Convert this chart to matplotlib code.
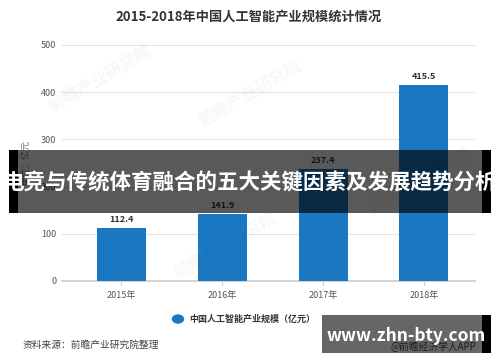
import matplotlib
matplotlib.use("Agg")
import matplotlib.pyplot as plt
from matplotlib.patches import Rectangle

plt.rcParams['font.family'] = ['Noto Sans CJK SC', 'DejaVu Sans']

years = ["2015年", "2016年", "2017年", "2018年"]
values = [112.4, 141.9, 237.4, 415.5]
yticks = [0, 100, 200, 300, 400, 500]
title = "2015-2018年中国人工智能产业规模统计情况"
legend_label = "中国人工智能产业规模（亿元）"
banner_text = "电竞与传统体育融合的五大关键因素及发展趋势分析"
site_text = "www.zhn-bty.com"

fig = plt.figure(figsize=(5, 3.62), dpi=100)
ax = fig.add_axes([0.124, 0.2238, 0.826, 0.652])

x = range(len(years))
ax.bar(x, values, width=0.486, color="#1a78c2", zorder=3, label=legend_label)
for xi, v in zip(x, values):
    ax.text(xi, v + 8, f"{v}", ha="center", va="bottom", fontsize=6.5,
            fontweight="bold", color="#333333", zorder=4)

ax.set_xlim(-0.59, 3.506)
ax.set_ylim(0, 500)
ax.set_yticks(yticks)
ax.set_xticks(list(x))
ax.set_xticklabels(years)
ax.tick_params(axis="y", length=0, labelsize=6.5, colors="#555555", pad=4)
ax.tick_params(axis="x", length=3, color="#cccccc", labelsize=6.5, colors="#555555", pad=4)
ax.grid(axis="y", color="#e3e3e3", linewidth=0.8, zorder=0)
for s in ["top", "right", "left"]:
    ax.spines[s].set_visible(False)
ax.spines["bottom"].set_color("#cccccc")
ax.spines["bottom"].set_linewidth(1.2)
ax.set_ylabel("单位：亿元", fontsize=6.5, color="#777777", labelpad=8)

fig.text(0.498, 0.955, title, ha="center", va="center", fontsize=9.5,
         fontweight="bold", color="#333333")

# legend
fig.patches.append(plt.Circle((178 / 500, 1 - 319 / 362), 0.011, transform=fig.transFigure,
                              color="#1a78c2", figure=fig))
fig.text(189 / 500, 1 - 319 / 362, legend_label, ha="left", va="center", fontsize=6.5,
         fontweight="bold", color="#333333")

fig.text(23 / 500, 1 - 345 / 362, "资料来源：前瞻产业研究院整理", ha="left", va="center",
         fontsize=7, color="#444444")
fig.text(476 / 500, 1 - 347 / 362, "@前瞻经济学人APP", ha="right", va="center",
         fontsize=7, color="#444444")

# faint watermarks
for wx, wy in [(0.2, 0.78), (0.5, 0.74), (0.45, 0.32), (0.84, 0.5)]:
    fig.text(wx, wy, "前瞻产业研究院", ha="center", va="center", fontsize=12,
             rotation=30, color="#000000", alpha=0.035, fontweight="bold")

# overlay banner
fig.patches.append(Rectangle((9 / 500, 1 - 213 / 362), 482 / 500, 63 / 362,
                             transform=fig.transFigure, facecolor="black", alpha=0.65,
                             zorder=10, figure=fig))
for bx in [9, 482]:
    fig.patches.append(Rectangle((bx / 500, 1 - 213 / 362), 9 / 500, 63 / 362,
                                 transform=fig.transFigure, facecolor="black",
                                 zorder=10, figure=fig))
fig.text(0.5, 1 - 183 / 362, banner_text, ha="center", va="center", fontsize=15.5,
         fontweight="bold", color="white", zorder=11)

fig.patches.append(Rectangle((322 / 500, 1 - 353 / 362), 169 / 500, 38 / 362,
                             transform=fig.transFigure, facecolor="black", alpha=0.6,
                             zorder=10, figure=fig))
fig.patches.append(Rectangle((482 / 500, 1 - 353 / 362), 9 / 500, 38 / 362,
                             transform=fig.transFigure, facecolor="black",
                             zorder=10, figure=fig))
fig.text(406 / 500, 1 - 336 / 362, site_text, ha="center", va="center", fontsize=12.5,
         fontweight="bold", color="white", zorder=11)

fig.savefig("out.png", dpi=100)
